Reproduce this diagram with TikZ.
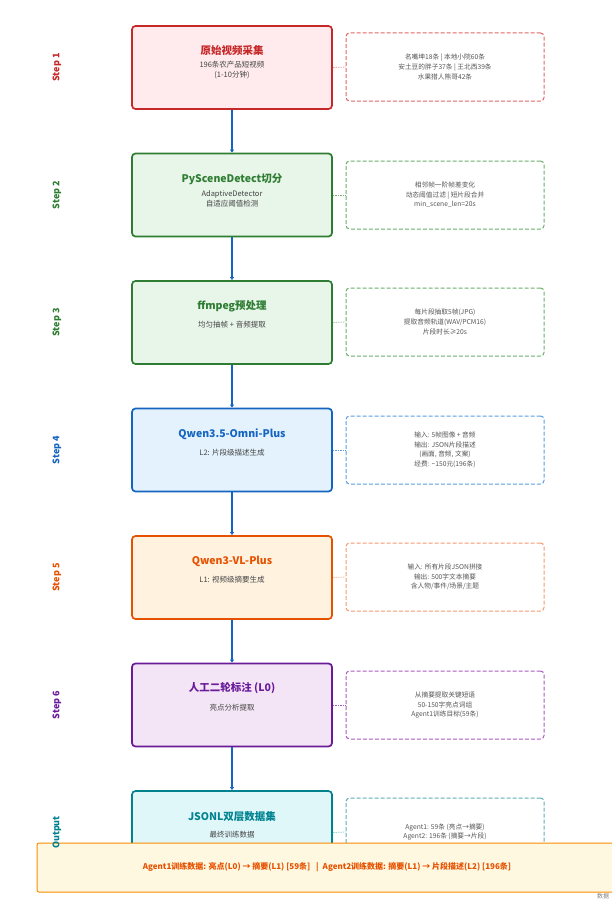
\documentclass[tikz,border=0pt]{standalone}
\usepackage{fontspec}
\setmainfont{Noto Sans CJK SC}
\usetikzlibrary{arrows.meta}
\definecolor{c1}{HTML}{C62828}\definecolor{f1}{HTML}{FFEBEE}\definecolor{d1}{HTML}{E06666}
\definecolor{c2}{HTML}{2E7D32}\definecolor{f2}{HTML}{E8F5E9}\definecolor{d2}{HTML}{6AAF6E}
\definecolor{c4}{HTML}{1565C0}\definecolor{f4}{HTML}{E3F2FD}\definecolor{d4}{HTML}{5A9FE0}
\definecolor{c5}{HTML}{E65100}\definecolor{f5}{HTML}{FFF3E0}\definecolor{d5}{HTML}{F59A6E}
\definecolor{c6}{HTML}{6A1B9A}\definecolor{f6}{HTML}{F3E5F5}\definecolor{d6}{HTML}{A95BC0}
\definecolor{c7}{HTML}{00838F}\definecolor{f7}{HTML}{E0F7FA}\definecolor{d7}{HTML}{5FAFB5}
\definecolor{bfill}{HTML}{FFF8E1}\definecolor{bdraw}{HTML}{FB8C00}
\definecolor{subtext}{HTML}{444444}\definecolor{notetext}{HTML}{555555}
\definecolor{connc}{HTML}{1565C0}
\tikzset{
  mainbox/.style={draw, line width=1.7pt, rounded corners=3.5pt, minimum width=200pt, minimum height=83pt, inner sep=0pt},
  notebox/.style={draw, dash pattern=on 4pt off 2pt, line width=1pt, rounded corners=3.5pt, minimum width=198pt, minimum height=68pt, align=center, text=notetext, font=\fontsize{6.7}{9.6}\selectfont},
  titletext/.style={font=\fontsize{10.5}{12}\selectfont\bfseries},
  subtxt/.style={font=\fontsize{7.5}{10}\selectfont, text=subtext, align=center},
  steplbl/.style={rotate=90, font=\fontsize{9}{10}\selectfont\bfseries},
  conn/.style={draw=connc, line width=2.8pt, -{Latex[length=3pt,width=4.5pt]}},
  linkc/.style={densely dotted, line width=0.7pt},
}
\begin{document}
\begin{tikzpicture}[x=1pt,y=-1pt]
\useasboundingbox (0,0) rectangle (611,907);
\fill[white] (0,0) rectangle (611,907);

% Step 1
\node[mainbox, draw=c1, fill=f1] (b1) at (232,67.5) {};
\node[titletext, text=c1] (t1) at (232,51) {原始视频采集};
\node[subtxt] (s1) at (232,70) {196条农产品短视频\\(1-10分钟)};
\node[notebox, draw=d1] (n1) at (445,67) {名嘴坤18条 | 本地小院60条\\安土豆的胖子37条 | 王北西39条\\水果猎人熊哥42条};
\node[steplbl, text=c1] (l1) at (57,67.5) {Step 1};

% Step 2
\node[mainbox, draw=c2, fill=f2] (b2) at (232,195) {};
\node[titletext, text=c2] (t2) at (232,179) {PySceneDetect切分};
\node[subtxt] (s2) at (232,198.5) {AdaptiveDetector\\自适应阈值检测};
\node[notebox, draw=d2] (n2) at (445,195) {相邻帧一阶帧差变化\\动态阈值过滤 | 短片段合并\\min\_scene\_len=20s};
\node[steplbl, text=c2] (l2) at (57,195) {Step 2};

% Step 3
\node[mainbox, draw=c2, fill=f2] (b3) at (232,322.5) {};
\node[titletext, text=c2] (t3) at (232,306) {ffmpeg预处理};
\node[subtxt] (s3) at (232,325) {均匀抽帧 + 音频提取};
\node[notebox, draw=d2] (n3) at (445,322) {每片段抽取5帧(JPG)\\提取音频轨道(WAV/PCM16)\\片段时长≥20s};
\node[steplbl, text=c2] (l3) at (57,322.5) {Step 3};

% Step 4
\node[mainbox, draw=c4, fill=f4] (b4) at (232,450) {};
\node[titletext, text=c4] (t4) at (232,434) {Qwen3.5-Omni-Plus};
\node[subtxt] (s4) at (232,453) {L2: 片段级描述生成};
\node[notebox, draw=d4] (n4) at (445,450) {输入: 5帧图像 + 音频\\输出: JSON片段描述\\(画面, 音频, 文案)\\经费: \textasciitilde150元(196条)};
\node[steplbl, text=c4] (l4) at (57,450) {Step 4};

% Step 5
\node[mainbox, draw=c5, fill=f5] (b5) at (232,577.5) {};
\node[titletext, text=c5] (t5) at (232,561) {Qwen3-VL-Plus};
\node[subtxt] (s5) at (232,580) {L1: 视频级摘要生成};
\node[notebox, draw=d5] (n5) at (445,577) {输入: 所有片段JSON拼接\\输出: 500字文本摘要\\含人物/事件/场景/主题};
\node[steplbl, text=c5] (l5) at (57,577.5) {Step 5};

% Step 6
\node[mainbox, draw=c6, fill=f6] (b6) at (232,705) {};
\node[titletext, text=c6] (t6) at (232,688) {人工二轮标注 (L0)};
\node[subtxt] (s6) at (232,708) {亮点分析提取};
\node[notebox, draw=d6] (n6) at (445,705) {从摘要提取关键短语\\50-150字亮点词组\\Agent1训练目标(59条)};
\node[steplbl, text=c6] (l6) at (57,705) {Step 6};

% Output
\node[mainbox, draw=c7, fill=f7] (b7) at (232,832.5) {};
\node[titletext, text=c7] (t7) at (232,817) {JSONL双层数据集};
\node[subtxt] (s7) at (232,835) {最终训练数据};
\node[notebox, draw=d7] (n7) at (445,832) {Agent1: 59条 (亮点→摘要)\\Agent2: 196条 (摘要→片段)};

% connectors
\draw[conn] (b1.south) -- (b2.north);
\draw[conn] (b2.south) -- (b3.north);
\draw[conn] (b3.south) -- (b4.north);
\draw[conn] (b4.south) -- (b5.north);
\draw[conn] (b5.south) -- (b6.north);
\draw[conn] (b6.south) -- (b7.north);

\draw[linkc, draw=d1] (b1.east) -- (n1.west);
\draw[linkc, draw=d2] (b2.east) -- (n2.west);
\draw[linkc, draw=d2] (b3.east) -- (n3.west);
\draw[linkc, draw=d4] (b4.east) -- (n4.west);
\draw[linkc, draw=d5] (b5.east) -- (n5.west);
\draw[linkc, draw=d6] (b6.east) -- (n6.west);
\draw[linkc, draw=d7] (b7.east) -- (n7.west);

% banner
\node[draw=bdraw, fill=bfill, line width=1pt, rounded corners=2pt, minimum width=583pt, minimum height=49pt, inner sep=0pt] (bn) at (328.5,867.5) {};
\node[text=c5, font=\fontsize{8}{9}\selectfont\bfseries] (bt) at (327,867.5) {Agent1训练数据: 亮点(L0) → 摘要(L1) [59条] \enspace|\enspace Agent2训练数据: 摘要(L1) → 片段描述(L2) [196条]};
\node[steplbl, text=c7] (l7) at (57,832.5) {Output};
\node[anchor=west, text=gray, font=\fontsize{6}{7}\selectfont, inner sep=0pt] (src) at (597,896) {数据};
\end{tikzpicture}
\end{document}
